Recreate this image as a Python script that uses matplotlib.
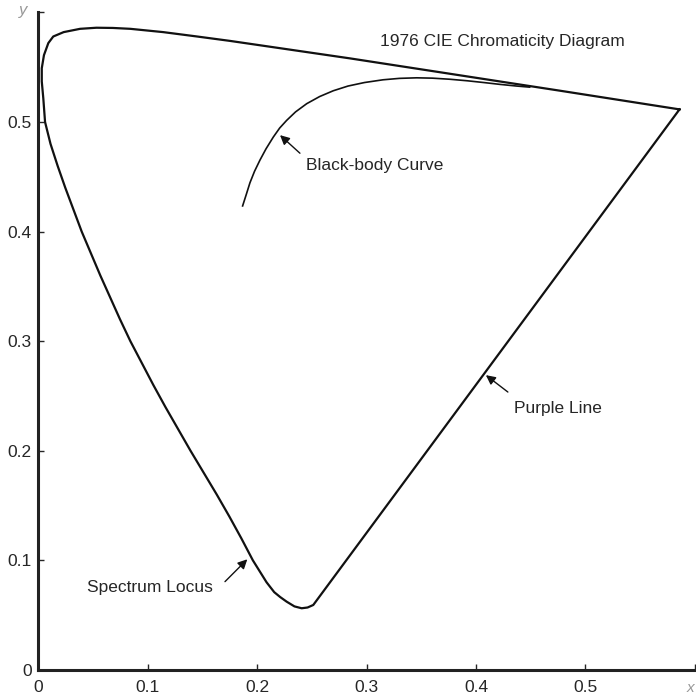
import numpy as np
import matplotlib
matplotlib.use("Agg")
import matplotlib.pyplot as plt

plt.rcParams['font.family'] = ['Liberation Sans', 'DejaVu Sans']

# spectrum locus in u'v', from the red end across the top and down to the violet end
locus_u = [0.586, 0.477, 0.285, 0.175, 0.145, 0.114, 0.084, 0.068, 0.053, 0.038,
           0.023, 0.0135, 0.009, 0.005, 0.003, 0.003, 0.0044, 0.006, 0.011, 0.0175,
           0.0245, 0.032, 0.0395, 0.048, 0.0565, 0.0655, 0.0745, 0.084, 0.0945, 0.105,
           0.116, 0.1275, 0.139, 0.151, 0.163, 0.1745, 0.1855, 0.196, 0.2085, 0.2155,
           0.221, 0.2269, 0.234, 0.2406, 0.246, 0.2512]
locus_v = [0.5115, 0.5285, 0.558, 0.574, 0.578, 0.582, 0.585, 0.5858, 0.586, 0.585,
           0.582, 0.578, 0.572, 0.561, 0.549, 0.537, 0.5216, 0.50, 0.48, 0.46,
           0.44, 0.42, 0.40, 0.38, 0.36, 0.34, 0.32, 0.30, 0.28, 0.26,
           0.24, 0.22, 0.20, 0.18, 0.16, 0.14, 0.12, 0.10, 0.08, 0.071,
           0.0665, 0.0623, 0.058, 0.0563, 0.057, 0.0593]

# planckian (black-body) locus
bb_u = [0.1866, 0.190, 0.1933, 0.1975, 0.2025, 0.208, 0.2147, 0.2205, 0.2269, 0.235,
        0.2452, 0.257, 0.2695, 0.283, 0.298, 0.315, 0.33, 0.3457, 0.36, 0.376,
        0.392, 0.407, 0.422, 0.437, 0.449]
bb_v = [0.4234, 0.434, 0.4445, 0.455, 0.4653, 0.4755, 0.4863, 0.4945, 0.5015, 0.5092,
        0.5167, 0.5232, 0.5285, 0.5328, 0.536, 0.5385, 0.5398, 0.5403, 0.540, 0.539,
        0.5376, 0.536, 0.5343, 0.5328, 0.5318]

tick_vals = [0, 0.1, 0.2, 0.3, 0.4, 0.5, 0.6]
tick_labels = ['0', '0.1', '0.2', '0.3', '0.4', '0.5', '']

txt_color = '#262626'

fig = plt.figure(figsize=(6.96, 6.96), dpi=100)
ax = fig.add_axes([0.0553, 0.0374, 0.943, 0.9448])

# closed outline: locus plus the purple line back to the red end
ax.plot(locus_u + [locus_u[0]], locus_v + [locus_v[0]], color='#111111', lw=1.6,
        solid_joinstyle='round', clip_on=False)
ax.plot(bb_u, bb_v, color='#111111', lw=1.2, solid_joinstyle='round')

ax.set_xlim(0, 0.6)
ax.set_ylim(0, 0.6)
ax.set_xticks(tick_vals)
ax.set_xticklabels(tick_labels)
ax.set_yticks(tick_vals)
ax.set_yticklabels(tick_labels)
ax.tick_params(direction='in', length=4, width=1, colors=txt_color,
               labelsize=12.5, pad=5)
ax.tick_params(axis='x', pad=7)

for s in ['top', 'right']:
    ax.spines[s].set_visible(False)
for s in ['left', 'bottom']:
    ax.spines[s].set_linewidth(2.2)
    ax.spines[s].set_color('#222222')

fig.text(23 / 696, 1 - 11 / 696, 'y', fontsize=12, style='italic', color='#999999',
         ha='center', va='center')
fig.text(690 / 696, 1 - 688 / 696, 'x', fontsize=11, style='italic', color='#999999',
         ha='center', va='center')

ax.text(0.312, 0.573, '1976 CIE Chromaticity Diagram', fontsize=12.5,
        color=txt_color, ha='left', va='center')

arrow = dict(arrowstyle='-|>', color='#111111', lw=1, mutation_scale=14,
             shrinkA=0, shrinkB=0)

ax.text(0.2445, 0.46, 'Black-body Curve', fontsize=12.5, color=txt_color,
        ha='left', va='center')
ax.annotate('', xy=(0.2208, 0.488), xytext=(0.239, 0.4715), arrowprops=arrow)

ax.text(0.044, 0.0748, 'Spectrum Locus', fontsize=12.5, color=txt_color,
        ha='left', va='center')
ax.annotate('', xy=(0.1909, 0.101), xytext=(0.1705, 0.0806), arrowprops=arrow)

ax.text(0.4351, 0.239, 'Purple Line', fontsize=12.5, color=txt_color,
        ha='left', va='center')
ax.annotate('', xy=(0.409, 0.269), xytext=(0.4291, 0.2536), arrowprops=arrow)

fig.savefig('out.png', dpi=100)
